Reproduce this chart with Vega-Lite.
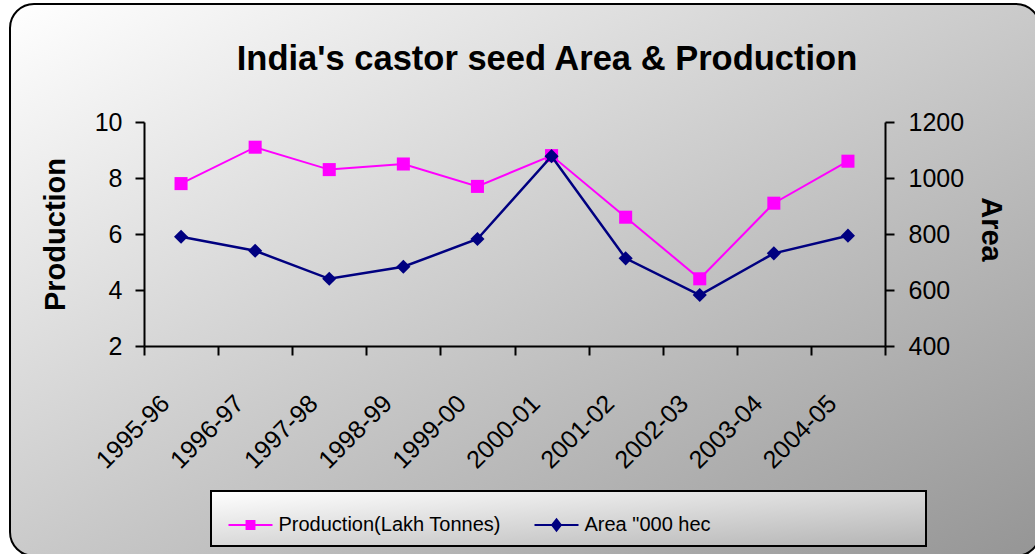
{
  "$schema": "https://vega.github.io/schema/vega-lite/v6.json",
  "width": 1030,
  "height": 552,
  "autosize": {"type": "none"},
  "padding": {"left": 10, "top": 4, "right": 0, "bottom": 0},
  "background": "white",
  "config": {
    "view": {"stroke": null},
    "font": "Liberation Sans",
    "axis": {"domainColor": "black", "domainWidth": 2, "tickColor": "black", "tickWidth": 2, "labelColor": "black", "titleColor": "black", "grid": false, "labelFont": "Liberation Sans", "labelFontSize": 25, "zindex": 2},
    "legend": {"strokeWidth": 2}
  },
  "title": {
    "text": "India's castor seed Area & Production",
    "font": "Liberation Sans",
    "fontSize": 34.5,
    "fontWeight": "bold",
    "color": "black",
    "anchor": "middle",
    "frame": "group",
    "offset": 0,
    "baseline": "alphabetic",
    "dy": 101,
    "dx": 22
  },
  "datasets": {
    "castor": [
      {"year": "1995-96", "prod": 7.8, "area": 790},
      {"year": "1996-97", "prod": 9.1, "area": 740},
      {"year": "1997-98", "prod": 8.3, "area": 640},
      {"year": "1998-99", "prod": 8.5, "area": 683},
      {"year": "1999-00", "prod": 7.7, "area": 782},
      {"year": "2000-01", "prod": 8.8, "area": 1078},
      {"year": "2001-02", "prod": 6.6, "area": 713},
      {"year": "2002-03", "prod": 4.4, "area": 582},
      {"year": "2003-04", "prod": 7.1, "area": 731},
      {"year": "2004-05", "prod": 8.6, "area": 794}
    ],
    "panel": [{"name": "chart area"}]
  },
  "layer": [
    {
      "data": {"name": "panel"},
      "mark": {
        "type": "rect",
        "cornerRadius": 24,
        "stroke": "black",
        "strokeWidth": 2,
        "fill": {"gradient": "linear", "x1": 0, "y1": 0, "x2": 1, "y2": 1, "stops": [{"offset": 0, "color": "#ffffff"}, {"offset": 1, "color": "#959595"}]}
      },
      "encoding": {}
    },
    {
      "data": {"name": "castor"},
      "encoding": {
        "x": {
          "field": "year",
          "type": "ordinal",
          "sort": null,
          "scale": {"type": "band", "range": [134, 875], "paddingInner": 0, "paddingOuter": 0},
          "axis": {
            "title": null,
            "orient": "bottom",
            "offset": -210,
            "zindex": 2,
            "tickBand": "extent",
            "tickSize": 9,
            "labelAngle": -45,
            "labelAlign": "right",
            "labelBaseline": "middle",
            "labelPadding": 44,
            "labelOffset": -16,
            "labelOverlap": false,
            "encode": {"ticks": {"y": {"value": -9}}}
          }
        },
        "y": {
          "field": "prod",
          "type": "quantitative",
          "scale": {"domain": [2, 10], "range": [342, 118], "nice": false, "zero": false},
          "axis": {
            "orient": "left",
            "offset": -134,
            "zindex": 2,
            "values": [2, 4, 6, 8, 10],
            "tickSize": 9,
            "labelPadding": 13,
            "title": "Production",
            "titleFont": "Liberation Sans",
            "titleFontWeight": "bold",
            "titleFontSize": 29,
            "titleX": -89,
            "titleY": 230,
            "titleAngle": -90,
            "titleAlign": "center",
            "titleBaseline": "middle",
            "encode": {"ticks": {"x": {"value": 9}}}
          }
        }
      },
      "layer": [
        {"mark": {"type": "line", "color": "#FF00FF", "strokeWidth": 2}},
        {"mark": {"type": "point", "shape": "square", "filled": true, "color": "#FF00FF", "size": 170, "opacity": 1}}
      ]
    },
    {
      "data": {"name": "castor"},
      "encoding": {
        "x": {
          "field": "year",
          "type": "ordinal",
          "sort": null,
          "scale": {"type": "band", "range": [134, 875], "paddingInner": 0, "paddingOuter": 0}
        },
        "y": {
          "field": "area",
          "type": "quantitative",
          "scale": {"domain": [400, 1200], "range": [342, 118], "nice": false, "zero": false},
          "axis": {
            "orient": "right",
            "offset": -155,
            "zindex": 2,
            "values": [400, 600, 800, 1000, 1200],
            "format": "d",
            "tickSize": 9,
            "labelPadding": 14,
            "title": "Area",
            "titleFont": "Liberation Sans",
            "titleFontWeight": "bold",
            "titleFontSize": 29,
            "titleX": 105,
            "titleY": 225,
            "titleAngle": 90,
            "titleAlign": "center",
            "titleBaseline": "middle",
            "encode": {"ticks": {"x": {"value": -9}}}
          }
        }
      },
      "layer": [
        {"mark": {"type": "line", "color": "#000080", "strokeWidth": 2.5}},
        {"mark": {"type": "point", "shape": "diamond", "filled": true, "color": "#000080", "size": 200, "opacity": 1}}
      ]
    },
    {
      "data": {"name": "castor"},
      "transform": [{"fold": ["prod", "area"], "as": ["series", "value"]}],
      "mark": {"type": "point", "filled": true, "opacity": 0, "strokeWidth": 2},
      "encoding": {
        "shape": {
          "field": "series",
          "type": "nominal",
          "scale": {"domain": ["prod", "area", "spacer"], "range": ["M-1,0H1M-0.18,-0.18H0.18V0.18H-0.18Z", "M-1,0H1M0,-0.26L0.2,0L0,0.26L-0.2,0Z", "M-1,0H6.53"]},
          "legend": {
            "orient": "none",
            "legendX": 201,
            "legendY": 487,
            "direction": "horizontal",
            "title": null,
            "fillColor": {"expr": "{gradient: 'linear', x1: 0, y1: 0, x2: 1, y2: 1, stops: [{offset: 0, color: '#ffffff'}, {offset: 1, color: '#b4b4b4'}]}"},
            "strokeColor": "black",
            "padding": 11,
            "symbolSize": 1936,
            "symbolStrokeWidth": 2,
            "symbolOpacity": 1,
            "symbolOffset": 5.5,
            "labelFont": "Liberation Sans",
            "labelFontSize": 20,
            "labelColor": "black",
            "labelOffset": 5,
            "labelLimit": 600,
            "columnPadding": 27,
            "labelExpr": "datum.label == 'prod' ? 'Production(Lakh Tonnes)' : datum.label == 'area' ? 'Area \"000 hec' : ''"
          }
        },
        "fill": {"field": "series", "type": "nominal", "scale": {"domain": ["prod", "area", "spacer"], "range": ["#FF00FF", "#000080", "transparent"]}},
        "stroke": {"field": "series", "type": "nominal", "scale": {"domain": ["prod", "area", "spacer"], "range": ["#FF00FF", "#000080", "transparent"]}}
      }
    }
  ],
  "resolve": {"scale": {"y": "independent"}, "axis": {"y": "independent"}}
}
